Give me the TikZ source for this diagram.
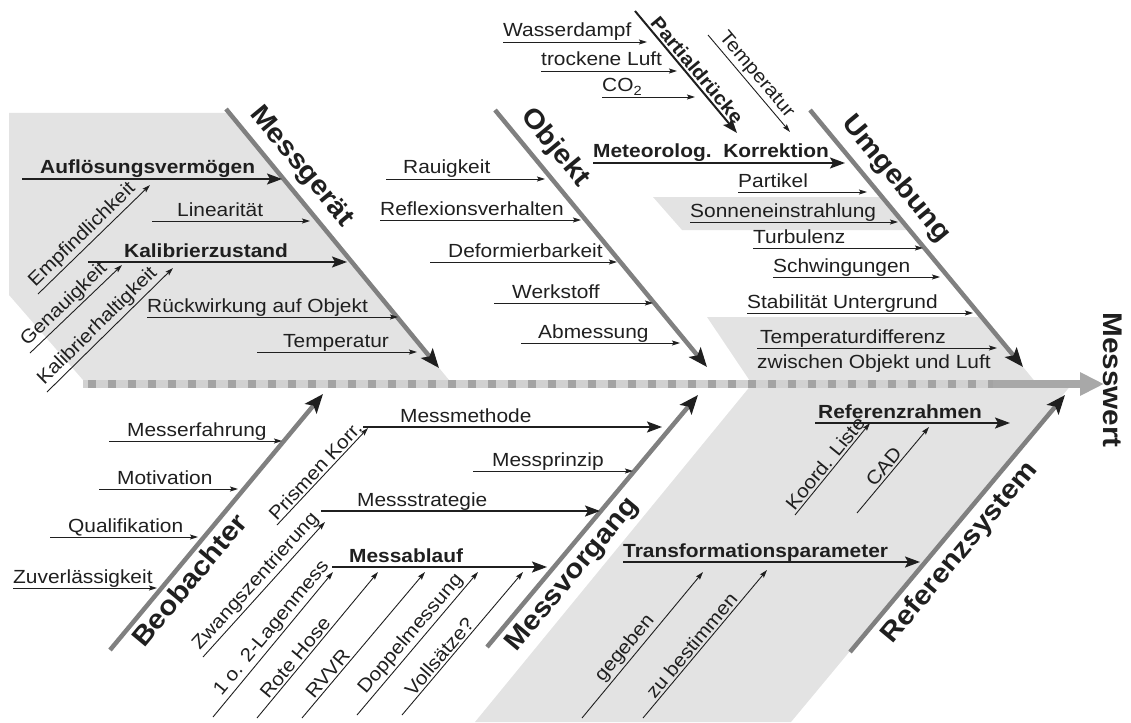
\documentclass[tikz,border=0pt]{standalone}
\usepackage{fontspec}
\setmainfont{Liberation Sans}[FakeStretch=1.1]
\usetikzlibrary{arrows.meta, calc}

\definecolor{ink}{gray}{0.12}
\definecolor{bonegray}{gray}{0.5}
\definecolor{fieldgray}{gray}{0.89}
\definecolor{bandgray}{gray}{0.82}
\definecolor{dotgray}{gray}{0.64}
\definecolor{axisgray}{gray}{0.66}

\newcommand{\txtsize}{\fontsize{19}{22}\selectfont}
\newcommand{\bonesize}{\fontsize{27}{30}\selectfont\bfseries}

\begin{document}
\begin{tikzpicture}[x=1pt, y=-1pt,
    bone/.style={line width=4.5pt, bonegray, -{Stealth[length=19pt, width=15pt, inset=4pt, color=ink]}},
    branch/.style={line width=2pt, ink, -{Stealth[length=15pt, width=11pt, inset=3pt]}},
    twig/.style={line width=0.9pt, ink, -{Stealth[length=8pt, width=5pt, inset=1.5pt]}},
    txt/.style={font=\txtsize, text=ink, inner sep=0pt, anchor=base west},
    btxt/.style={txt, font=\txtsize\bfseries},
    alongtxt/.style={font=\txtsize, text=ink, sloped, anchor=south west, inner sep=2pt},
    bonetxt/.style={font=\bonesize, text=ink, inner sep=0pt}]
    \useasboundingbox (0,0) rectangle (1131,722);

    \coordinate (geraetA) at (226,109);  \coordinate (geraetB) at (439,368);
    \coordinate (objektA) at (495,110);  \coordinate (objektB) at (707,367);
    \coordinate (umgebA) at (810,110);   \coordinate (umgebB) at (1023,367);
    \coordinate (beobA) at (110,650);    \coordinate (beobB) at (323,394);
    \coordinate (vorgangA) at (487,647); \coordinate (vorgangB) at (698,395);
    \coordinate (refA) at (850,652);     \coordinate (refB) at (1065,395);
    \coordinate (axisstart) at (83,384); \coordinate (axismid) at (993,384);
    \coordinate (axisend) at (1104,384);

    % grey fields
    \fill[fieldgray] (9,113) -- (229,113) -- (449,380) -- (83,380) -- (9,295) -- cycle;
    \fill[fieldgray] (653,197) -- (883,197) -- (910,230) -- (682,230) -- cycle;
    \fill[fieldgray] (707,317) -- (982,317) -- (1037,384) -- (1072,384) -- (791,722)
        -- (475,722) -- (752,384) -- cycle;

    % main axis
    \draw[line width=8pt, bandgray] (axisstart) -- (axismid);
    \draw[line width=8pt, dotgray, dash pattern=on 8pt off 12pt] ($(axisstart)+(5,0)$) -- (axismid);
    \node[bonetxt, rotate=-90] (messwert) at (1113,380) {Messwert};
    \draw[line width=8pt, axisgray, -{Triangle[length=24pt, width=22pt]}] (axismid) -- (axisend);

    % bones
    \draw[bone] (geraetA) -- (geraetB);
    \draw[bone] (objektA) -- (objektB);
    \draw[bone] (umgebA) -- (umgebB);
    \draw[bone] (beobA) -- (beobB);
    \draw[bone] (vorgangA) -- (vorgangB);
    \draw[bone] (refA) -- (refB);

    \node[bonetxt, rotate=-50.4] (messgeraet) at (301,167) {Messgerät};
    \node[bonetxt, rotate=-50.4] (objekt) at (555,148) {Objekt};
    \node[bonetxt, rotate=-50.4] (umgebung) at (896,179) {Umgebung};
    \node[bonetxt, rotate=50.2] (beobachter) at (189,580) {Beobachter};
    \node[bonetxt, rotate=50.2] (messvorgang) at (573,575) {Messvorgang};
    \node[bonetxt, rotate=50.2] (refsystem) at (960,553) {Referenzsystem};

    % Messgeraet
    \draw[branch] (22,179) -- (282,179);
    \node[btxt] (aufloesung) at (40,174) {Auflösungsvermögen};
    \draw[twig] (152,221) -- (310,221);
    \node[txt] (linear) at (177,216) {Linearität};
    \draw[branch] (88,262) -- (347,262);
    \node[btxt] (kalzustand) at (124,257) {Kalibrierzustand};
    \draw[twig] (147,317) -- (398,317);
    \node[txt] (rueckwirkung) at (147,312) {Rückwirkung auf Objekt};
    \draw[twig] (257,352) -- (417,352);
    \node[txt] (tempgeraet) at (283,347) {Temperatur};
    \draw[twig] (38,294) -- node[alongtxt, pos=0] (empf) {Empfindlichkeit} (150,185);
    \draw[twig] (30,353) -- node[alongtxt, pos=0] (genau) {Genauigkeit} (122,265);
    \draw[twig] (47,392) -- node[alongtxt, pos=0] (kalhalt) {Kalibrierhaltigkeit} (173,268);

    % Objekt
    \draw[twig] (386,179) -- (545,179);
    \node[txt] (rauig) at (403,174) {Rauigkeit};
    \draw[twig] (380,220) -- (581,220);
    \node[txt] (reflex) at (380,215) {Reflexionsverhalten};
    \draw[twig] (430,262) -- (617,262);
    \node[txt] (deform) at (448,257) {Deformierbarkeit};
    \draw[twig] (494,303) -- (653,303);
    \node[txt] (werkstoff) at (512,298) {Werkstoff};
    \draw[twig] (521,343) -- (680,343);
    \node[txt] (abmessung) at (538,338) {Abmessung};

    % Umgebung
    \draw[twig] (503,42) -- (647,42);
    \node[txt] (wasser) at (503,37) {Wasserdampf};
    \draw[twig] (541,71) -- (677,71);
    \node[txt] (luft) at (541,66) {trockene Luft};
    \draw[twig] (602,97) -- (695,97);
    \node[txt] (co2) at (602,92) {CO\textsubscript{2}};
    \draw[branch] (635,11) -- node[alongtxt, font=\txtsize\bfseries, pos=0.1] (partial) {Partialdrücke} (737,133);
    \draw[twig] (708,35) -- node[alongtxt, pos=0.05] (tempumg) {Temperatur} (790,132);
    \draw[branch] (593,163) -- (845,163);
    \node[btxt] (meteo) at (593,158) {Meteorolog.\ \ Korrektion};
    \draw[twig] (738,192) -- (867,192);
    \node[txt] (partikel) at (738,187) {Partikel};
    \draw[twig] (690,222) -- (898,222);
    \node[txt] (sonne) at (690,217) {Sonneneinstrahlung};
    \draw[twig] (753,248) -- (923,248);
    \node[txt] (turbulenz) at (753,243) {Turbulenz};
    \draw[twig] (773,277) -- (940,277);
    \node[txt] (schwing) at (773,272) {Schwingungen};
    \draw[twig] (747,313) -- (973,313);
    \node[txt] (stabil) at (747,308) {Stabilität Untergrund};
    \draw[twig] (757,348) -- (997,348);
    \node[txt] (tdiff) at (760,343) {Temperaturdifferenz};
    \node[txt] (tdiffb) at (757,368) {zwischen Objekt und Luft};

    % Beobachter
    \draw[twig] (109,441) -- (282,441);
    \node[txt] (erfahrung) at (127,436) {Messerfahrung};
    \draw[twig] (99,489) -- (238,489);
    \node[txt] (motivation) at (117,484) {Motivation};
    \draw[twig] (50,537) -- (198,537);
    \node[txt] (quali) at (68,532) {Qualifikation};
    \draw[twig] (13,588) -- (157,588);
    \node[txt] (zuverl) at (13,583) {Zuverlässigkeit};

    % Messvorgang
    \draw[branch] (363,427) -- (662,427);
    \node[txt] (methode) at (400,422) {Messmethode};
    \draw[twig] (277,525) -- node[alongtxt, pos=0] (prismen) {Prismen Korr.} (368,428);
    \draw[twig] (473,471) -- (633,471);
    \node[txt] (prinzip) at (492,466) {Messprinzip};
    \draw[branch] (321,511) -- (600,511);
    \node[txt] (strategie) at (357,506) {Messstrategie};
    \draw[twig] (203,657) -- node[alongtxt, pos=0] (zwang) {Zwangszentrierung} (325,522);
    \draw[branch] (332,567) -- (547,567);
    \node[btxt] (ablauf) at (349,562) {Messablauf};
    \draw[twig] (213,717) -- node[alongtxt, pos=0.1] (lagen) {1 o. 2-Lagenmess} (333,572);
    \draw[twig] (257,718) -- node[alongtxt, pos=0.1] (hose) {Rote Hose} (378,572);
    \draw[twig] (302,718) -- node[alongtxt, pos=0.1] (rvvr) {RVVR} (425,572);
    \draw[twig] (357,715) -- node[alongtxt, pos=0.1] (doppel) {Doppelmessung} (478,572);
    \draw[twig] (402,715) -- node[alongtxt, pos=0.1] (voll) {Vollsätze?} (523,572);

    % Referenzsystem
    \draw[branch] (815,423) -- (1010,423);
    \node[btxt] (rahmen) at (818,418) {Referenzrahmen};
    \draw[twig] (795,515) -- node[alongtxt, pos=0] (koord) {Koord. Liste} (870,423);
    \draw[twig] (857,513) -- node[alongtxt, pos=0.25] (cad) {CAD} (929,427);
    \draw[branch] (623,562) -- (920,562);
    \node[btxt] (trafo) at (623,557) {Transformationsparameter};
    \draw[twig] (582,718) -- node[alongtxt, pos=0.2] (gegeben) {gegeben} (703,572);
    \draw[twig] (643,718) -- node[alongtxt, pos=0.1] (bestimmen) {zu bestimmen} (767,570);
\end{tikzpicture}
\end{document}
